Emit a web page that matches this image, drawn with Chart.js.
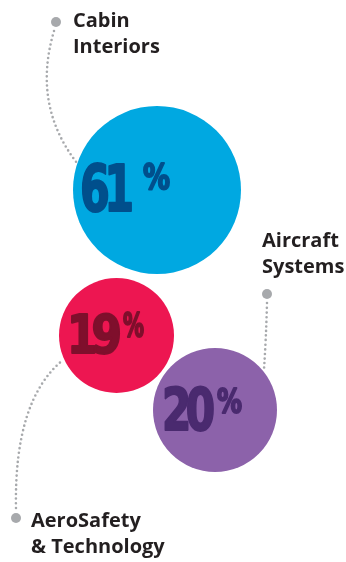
<!DOCTYPE html>
<html>
<head>
<meta charset="utf-8">
<script src="https://cdn.jsdelivr.net/npm/chart.js@4"></script>
<style>
  html, body { margin: 0; padding: 0; background: #fff; }
  #wrap { width: 346px; height: 562px; }
</style>
</head>
<body>
<div id="wrap"><canvas id="bubbleChart"></canvas></div>
<script>
// segment shares (percent of revenue)
const segments = ['Cabin Interiors', 'Aircraft Systems', 'AeroSafety & Technology'];
const shares = [61, 20, 19];
// bubble placement, in axis units (axes span the canvas pixel grid)
const bubbleX = [157, 215, 116.5];
const bubbleY = [190, 410, 335.5];
const bubbleR = [84, 62, 57.5];

const fills = ['#00a8e1', '#8c62aa', '#ed1651'];
const numColors = ['#004f8c', '#4a2a6f', '#7f0f2c'];
const labelLines = [['Cabin', 'Interiors'], ['Aircraft', 'Systems'], ['AeroSafety', '& Technology']];

// number/percent offsets from bubble centre, font sizes and target widths
const numLayout = [
  { dx: -77, dy: 21, size: 64, w: 54, pdx: -14, pdy: -1, pct: 36, pw: 27 },
  { dx: -53, dy: 20, size: 58, w: 53, pdx: 2, pdy: 3, pct: 34, pw: 25 },
  { dx: -49.5, dy: 17.5, size: 53, w: 55, pdx: 6.5, pdy: 1.5, pct: 33, pw: 21 }
];
// text label spots, dots and dotted leaders
const textSpots = [{ x: 73, y: 27 }, { x: 262, y: 247 }, { x: 31, y: 527 }];
const dots = [{ x: 56, y: 22 }, { x: 267, y: 294 }, { x: 16, y: 518 }];
const leaders = [
  [[54, 31], [32, 105], [77, 163]],
  [[267, 303], [266, 340], [264, 369]],
  [[16, 508], [14, 400], [63, 360]]
];

function squeezeText(ctx, txt, x, y, width, spacing) {
  ctx.letterSpacing = spacing + 'px';
  const natural = ctx.measureText(txt).width - spacing;
  ctx.save();
  ctx.translate(x, y);
  ctx.scale(width / natural, 1);
  ctx.fillText(txt, 0, 0);
  ctx.strokeText(txt, 0, 0);
  ctx.restore();
  ctx.letterSpacing = '0px';
}

const decor = {
  id: 'decor',
  afterDatasetsDraw(chart) {
    const ctx = chart.ctx;
    const meta = chart.getDatasetMeta(0);
    ctx.save();
    // leaders
    ctx.strokeStyle = '#a7a9ac';
    ctx.fillStyle = '#a7a9ac';
    ctx.lineWidth = 2.6;
    ctx.lineCap = 'round';
    ctx.setLineDash([0, 4.6]);
    leaders.forEach(p => {
      ctx.beginPath();
      ctx.moveTo(p[0][0], p[0][1]);
      ctx.quadraticCurveTo(p[1][0], p[1][1], p[2][0], p[2][1]);
      ctx.stroke();
    });
    ctx.setLineDash([]);
    dots.forEach(d => {
      ctx.beginPath();
      ctx.arc(d.x, d.y, 5, 0, Math.PI * 2);
      ctx.fill();
    });
    // category labels
    ctx.fillStyle = '#231f20';
    ctx.font = 'bold 20px "Open Sans"';
    ctx.textBaseline = 'alphabetic';
    labelLines.forEach((lines, i) => {
      lines.forEach((t, j) => ctx.fillText(t, textSpots[i].x, textSpots[i].y + j * 26));
    });
    // percentages inside bubbles
    ctx.lineWidth = 2;
    ctx.lineJoin = 'round';
    meta.data.forEach((el, i) => {
      const l = numLayout[i];
      ctx.fillStyle = numColors[i];
      ctx.strokeStyle = numColors[i];
      ctx.font = 'bold ' + l.size + 'px "DejaVu Sans Condensed", "Liberation Sans"';
      squeezeText(ctx, String(shares[i]), el.x + l.dx, el.y + l.dy, l.w, -l.size * 0.12);
      ctx.font = 'bold ' + l.pct + 'px "DejaVu Sans Condensed", "Liberation Sans"';
      squeezeText(ctx, '%', el.x + l.pdx, el.y + l.pdy, l.pw, 0);
    });
    ctx.restore();
  }
};

new Chart(document.getElementById('bubbleChart'), {
  type: 'bubble',
  data: {
    labels: segments,
    datasets: [{
      data: shares.map((s, i) => ({ x: bubbleX[i], y: bubbleY[i], r: bubbleR[i], share: s })),
      backgroundColor: fills,
      borderWidth: 0,
      hoverRadius: 0,
      clip: false
    }]
  },
  options: {
    responsive: true,
    maintainAspectRatio: false,
    animation: false,
    events: [],
    layout: { padding: 0, autoPadding: false },
    plugins: { legend: { display: false }, tooltip: { enabled: false } },
    scales: {
      x: { display: false, min: 0, max: 346 },
      y: { display: false, min: 0, max: 562, reverse: true }
    }
  },
  plugins: [decor]
});
</script>
</body>
</html>
